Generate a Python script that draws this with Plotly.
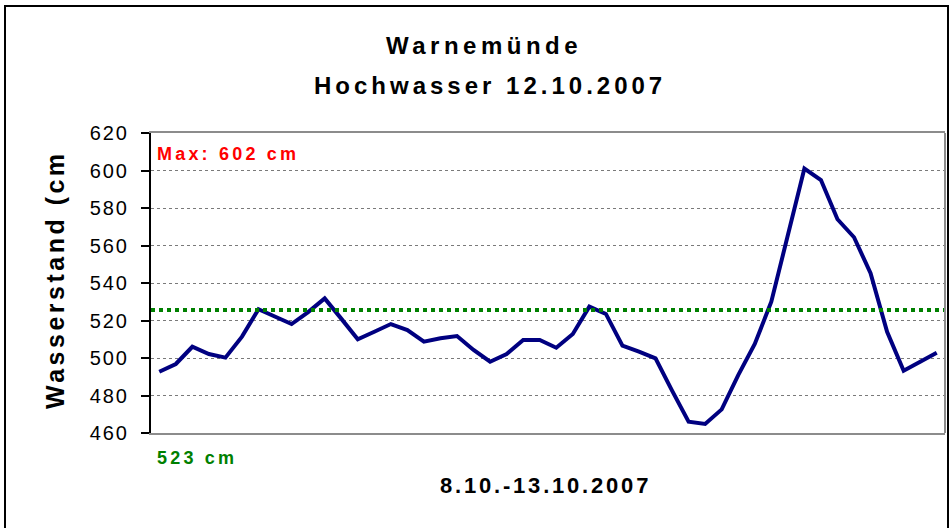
import plotly.graph_objects as go

# ---- data ----
pegel_cm = [492.7, 496.8, 506.0, 502.1, 500.2, 511.4, 526.0, 522.0, 518.1, 524.5,
            531.8, 521.0, 510.0, 514.0, 518.1, 514.9, 508.7, 510.5, 511.7, 504.3,
            498.0, 502.1, 509.6, 509.6, 505.5, 512.8, 527.4, 523.5, 506.6, 503.4,
            499.8, 482.6, 466.0, 464.8, 472.6, 490.9, 507.5, 530.0, 566.5, 601.0,
            594.9, 574.0, 564.4, 545.2, 514.0, 493.2, 498.0, 502.8]
messpunkte = list(range(len(pegel_cm)))
mittel_linie_cm = 525.6
y_ticks = [460, 480, 500, 520, 540, 560, 580, 600, 620]
y_tick_labels = [str(v) for v in y_ticks]

title_1 = "Warnemünde"
title_2 = "Hochwasser 12.10.2007"
y_title = "Wasserstand (cm"
x_title = "8.10.-13.10.2007"
max_label = "Max: 602 cm"
mean_label = "523 cm"

FONT = "Liberation Sans, Arial, sans-serif"


def spaced(text, px):
    return f'<span style="letter-spacing:{px}px">{text}</span>'


W, H = 952, 528
L, R, T, B = 151, 7, 133, 95
PW, PH = W - L - R, H - T - B


def px_x(x):
    return (x - L) / PW


def px_y(y):
    return (H - B - y) / PH


fig = go.Figure()
fig.add_trace(go.Scatter(
    x=messpunkte, y=pegel_cm, mode="lines",
    line=dict(color="#000080", width=4),
    hoverinfo="skip", showlegend=False,
))

shapes = [
    dict(type="line", xref="paper", yref="y", x0=0, x1=1,
         y0=mittel_linie_cm, y1=mittel_linie_cm,
         line=dict(color="#008000", width=4, dash="dot"), layer="above"),
    dict(type="line", xref="paper", yref="paper", x0=1, x1=1, y0=0, y1=1,
         line=dict(color="#8c8c8c", width=2)),
    dict(type="rect", xref="paper", yref="paper",
         x0=px_x(5), x1=px_x(948), y0=px_y(6), y1=px_y(540),
         line=dict(color="black", width=2), fillcolor="rgba(0,0,0,0)"),
]

annotations = [
    dict(text=spaced(title_1, 4.5), x=px_x(484), y=px_y(45), xref="paper", yref="paper",
         showarrow=False, xanchor="center", yanchor="middle",
         font=dict(family=FONT, size=24, color="black", weight="bold")),
    dict(text=spaced(title_2, 4), x=px_x(490), y=px_y(86), xref="paper", yref="paper",
         showarrow=False, xanchor="center", yanchor="middle",
         font=dict(family=FONT, size=24, color="black", weight="bold")),
    dict(text=spaced(y_title, 3.5), x=px_x(55), y=px_y(280), xref="paper", yref="paper",
         showarrow=False, xanchor="center", yanchor="middle", textangle=-90,
         font=dict(family=FONT, size=25, color="black", weight="bold")),
    dict(text=spaced(max_label, 3.2), x=px_x(155), y=px_y(154), xref="paper", yref="paper",
         showarrow=False, xanchor="left", yanchor="middle",
         font=dict(family=FONT, size=18, color="#ff0000", weight="bold")),
    dict(text=spaced(mean_label, 3.2), x=px_x(155), y=px_y(458), xref="paper", yref="paper",
         showarrow=False, xanchor="left", yanchor="middle",
         font=dict(family=FONT, size=18, color="#008000", weight="bold")),
    dict(text=spaced(x_title, 2.8), x=px_x(545), y=px_y(485), xref="paper", yref="paper",
         showarrow=False, xanchor="center", yanchor="middle",
         font=dict(family=FONT, size=22, color="black", weight="bold")),
]

fig.update_layout(
    width=W, height=H,
    margin=dict(l=L, r=R, t=T, b=B, pad=0),
    paper_bgcolor="white", plot_bgcolor="white",
    showlegend=False,
    shapes=shapes, annotations=annotations,
    xaxis=dict(range=[-0.5, len(pegel_cm) - 0.5], showgrid=False, zeroline=False,
               showticklabels=False, ticks="", showline=True, linecolor="#8c8c8c",
               linewidth=2, mirror=True, fixedrange=True),
    yaxis=dict(range=[460, 620], tickvals=y_ticks,
               ticktext=[spaced(t, 2) for t in y_tick_labels],
               showgrid=True, gridcolor="#7a7a7a", griddash="dot", gridwidth=1,
               zeroline=False, showline=True, linecolor="black", linewidth=2,
               ticks="outside", ticklen=8, tickwidth=2, tickcolor="black",
               ticklabelstandoff=8,
               tickfont=dict(family=FONT, size=20, color="black"), fixedrange=True),
)

fig.write_html(
    "out.html",
    config={"displayModeBar": False, "staticPlot": True},
    post_script="document.body.style.margin='0px';document.body.style.overflow='hidden';",
)
